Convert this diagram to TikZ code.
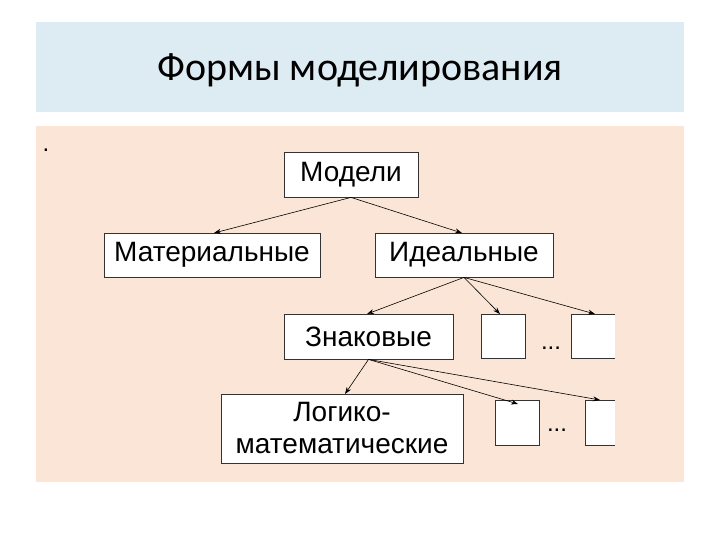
\documentclass[tikz,border=0pt]{standalone}
\usepackage{fontspec}
\setmainfont{Liberation Sans}
\newfontfamily\titlefont{Carlito}
\usetikzlibrary{arrows.meta}
\definecolor{band}{HTML}{DDEBF3}
\definecolor{peach}{HTML}{FBE5D6}
\begin{document}
\begin{tikzpicture}[x=1pt,y=-1pt,
  bx/.style={draw=black!80,fill=white,line width=0.8pt,inner sep=0pt,font=\fontsize{28}{31}\selectfont},
  ar/.style={-{Stealth[length=7pt,width=5pt]},line width=0.6pt}]
\useasboundingbox (0,0) rectangle (720,540);
\fill[band] (36,22) rectangle (684,112);
\fill[peach] (36,126) rectangle (684,482);
\node[font=\titlefont\fontsize{40}{44}\selectfont] (title) at (360,70) {Формы моделирования};
\node[font=\fontsize{24}{26}\selectfont] (dot) at (46,150) {.};
\node[bx,minimum width=134pt,minimum height=45pt] (m) at (351,174.5) {Модели};
\node[bx,minimum width=216pt,minimum height=44pt] (mat) at (212,255) {Материальные};
\node[bx,minimum width=178pt,minimum height=44pt] (id) at (464,255) {Идеальные};
\node[bx,minimum width=169pt,minimum height=45pt] (zn) at (368.5,336.5) {Знаковые};
\node[bx,minimum width=44pt,minimum height=44pt] (s1) at (503,336) {};
\node[bx,minimum width=242pt,minimum height=69pt,align=center,font=\fontsize{28}{32}\selectfont] (lm) at (342,428.5) {Логико-\\математические};
\node[bx,minimum width=44pt,minimum height=45pt] (s3) at (517,422.5) {};
\coordinate (s2) at (595,314);
\coordinate (s4) at (600,400);
\fill[white] (571,314) rectangle (615,358);
\draw[black!80,line width=0.8pt] (615,314) -- (571,314) -- (571,358) -- (615,358);
\fill[white] (585,400) rectangle (615,445);
\draw[black!80,line width=0.8pt] (615,400) -- (585,400) -- (585,445) -- (615,445);
\node[font=\fontsize{24}{26}\selectfont] (d1) at (551,348) {...};
\node[font=\fontsize{24}{26}\selectfont] (d2) at (557,430) {...};
\draw[ar] (m.south) -- (214,233);
\draw[ar] (m.south) -- (462,233);
\draw[ar] (id.south) -- (367,314);
\draw[ar] (id.south) -- (500,314);
\draw[ar] (id.south) -- (s2);
\draw[ar] (zn.south) -- (345,394);
\draw[ar] (zn.south) -- (518,404);
\draw[ar] (zn.south) -- (s4);
\end{tikzpicture}
\end{document}
